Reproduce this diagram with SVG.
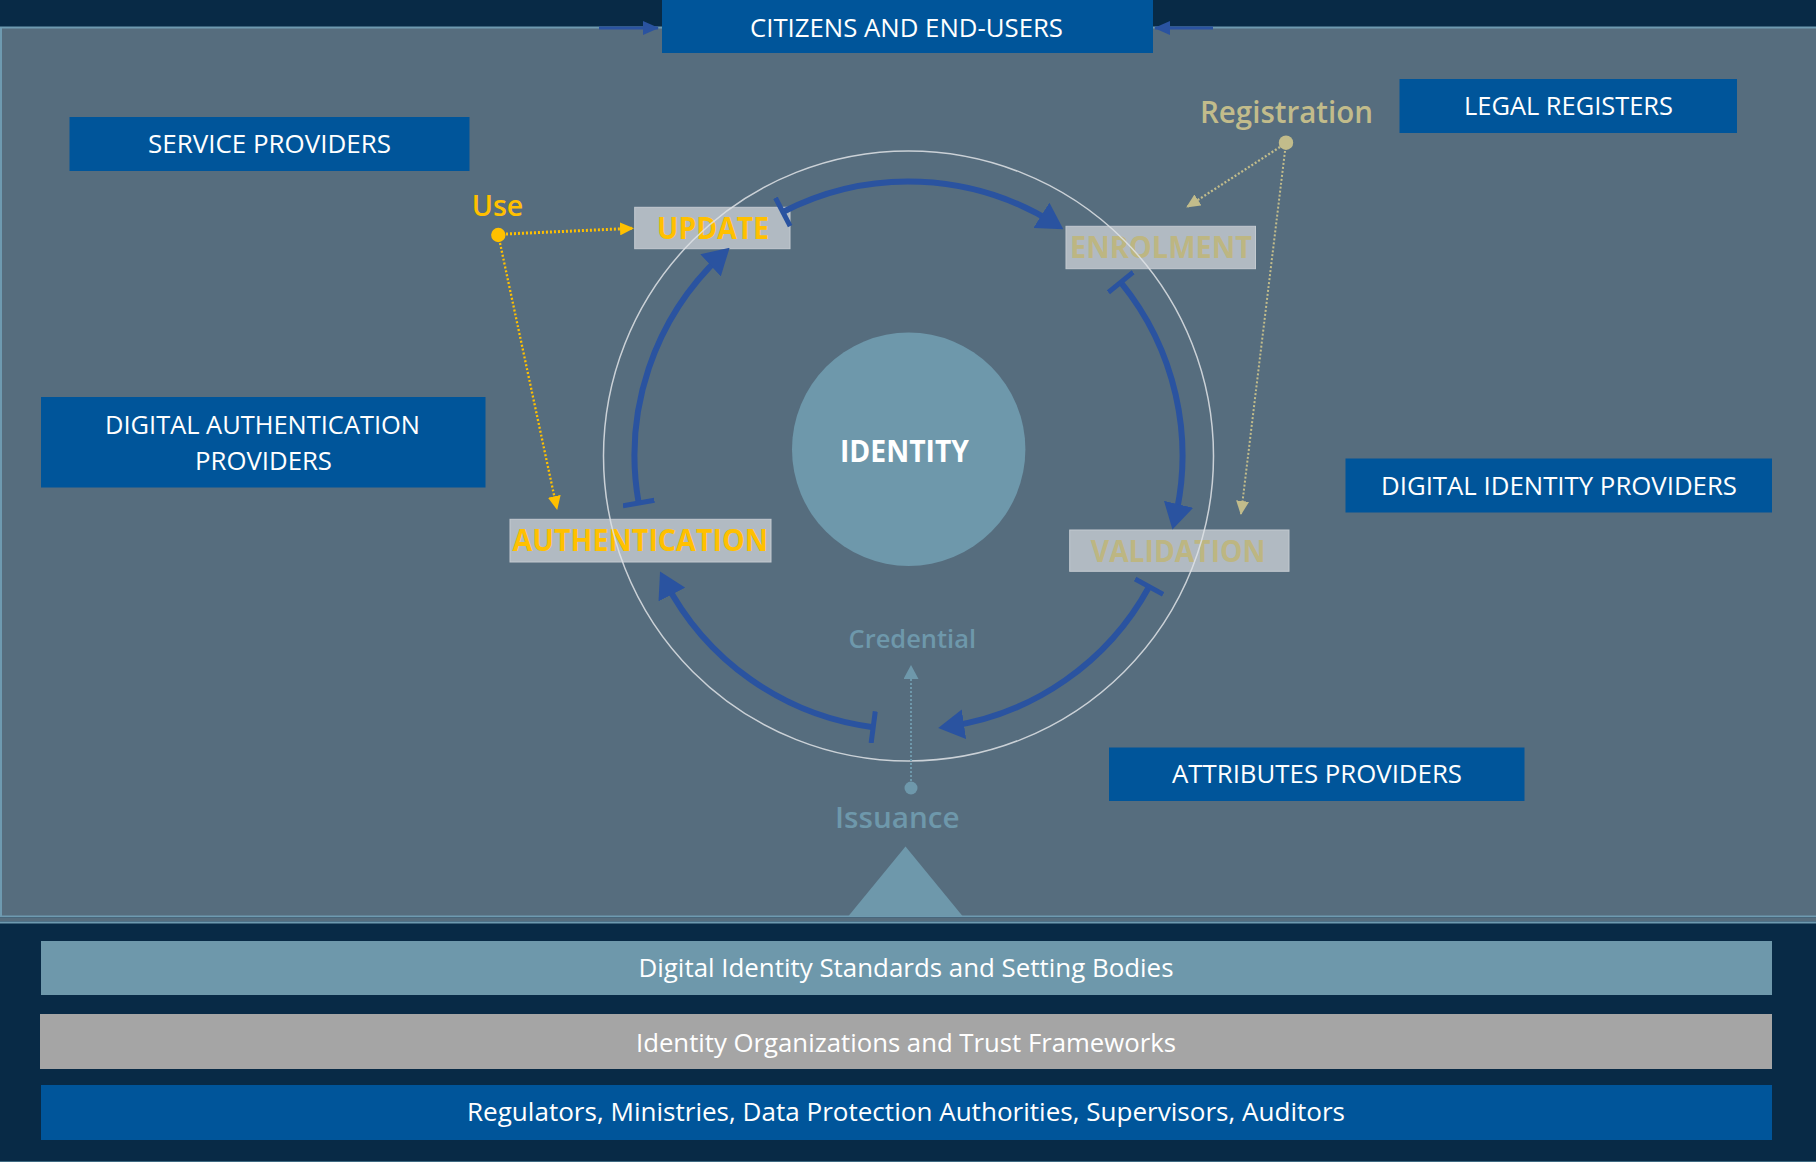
<svg xmlns="http://www.w3.org/2000/svg" width="1816" height="1162" viewBox="0 0 1816 1162">
<defs>
<style>
.sans{font-family:"Open Sans","Liberation Sans",sans-serif}
.box{fill:#00559a}
.boxtxt{font-family:"Open Sans","Liberation Sans",sans-serif;font-size:26px;fill:#ffffff;text-anchor:middle}
.lbl{fill:#b1bac2;stroke:#c3cad0;stroke-width:1}
.stage{font-family:"Open Sans","Liberation Sans",sans-serif;font-weight:700;font-size:30px;text-anchor:middle}
.orange{fill:#ffc000}
.tan{fill:#c2bc8b}
.stagetan{fill:#bdb682}
.teal{fill:#6e98ab}
.note{font-family:"Open Sans","Liberation Sans",sans-serif;font-weight:600;text-anchor:middle}
.arc{fill:none;stroke:#2a53a0;stroke-width:6;marker-start:url(#tee);marker-end:url(#bigArrow)}
.bartxt{font-family:"Open Sans","Liberation Sans",sans-serif;font-size:25px;fill:#ffffff;text-anchor:middle}
</style>
<marker id="bigArrow" markerUnits="userSpaceOnUse" viewBox="0 0 26 30" markerWidth="26" markerHeight="30" refX="16" refY="15" orient="auto">
<path d="M0,0 L26,15 L0,30 Z" fill="#2a53a0"/>
</marker>
<marker id="tee" markerUnits="userSpaceOnUse" viewBox="-3 -16 6 32" markerWidth="6" markerHeight="32" refX="0" refY="0" orient="auto">
<line x1="0" y1="-16" x2="0" y2="16" stroke="#2a53a0" stroke-width="5"/>
</marker>
<marker id="topArrow" markerUnits="userSpaceOnUse" viewBox="0 0 16 14" markerWidth="16" markerHeight="14" refX="15" refY="7" orient="auto">
<path d="M0,0 L16,7 L0,14 Z" fill="#2a53a0"/>
</marker>
<marker id="orangeArrow" markerUnits="userSpaceOnUse" viewBox="0 0 14 13" markerWidth="14" markerHeight="13" refX="13" refY="6.5" orient="auto">
<path d="M0,0 L14,6.5 L0,13 Z" fill="#ffc000"/>
</marker>
<marker id="tanArrow" markerUnits="userSpaceOnUse" viewBox="0 0 14 13" markerWidth="14" markerHeight="13" refX="13" refY="6.5" orient="auto">
<path d="M0,0 L14,6.5 L0,13 Z" fill="#c2bc8b"/>
</marker>
<marker id="tealArrow" markerUnits="userSpaceOnUse" viewBox="0 0 14 15" markerWidth="14" markerHeight="15" refX="13" refY="7.5" orient="auto">
<path d="M0,0 L14,7.5 L0,15 Z" fill="#6e98ab"/>
</marker>
</defs>

<!-- background -->
<rect x="0" y="0" width="1816" height="1162" fill="#082a46"/>
<rect x="1" y="27.5" width="1816" height="889" fill="#566d7e" stroke="#6e9ab0" stroke-width="2"/>
<rect x="0" y="917.5" width="1816" height="4" fill="#566d7e"/>
<line x1="0" y1="922.5" x2="1816" y2="922.5" stroke="#6e9ab0" stroke-width="2"/>
<line x1="0" y1="1161.5" x2="1816" y2="1161.5" stroke="#3f6a82" stroke-width="1"/>

<!-- foundation bars -->
<g id="standards">
<rect x="41" y="941" width="1731" height="54" fill="#6e98ab"/>
<text class="bartxt" x="906" y="977" textLength="535" lengthAdjust="spacingAndGlyphs">Digital Identity Standards and Setting Bodies</text>
</g>
<g id="trust-frameworks">
<rect x="40" y="1014" width="1732" height="55" fill="#a5a5a5"/>
<text class="bartxt" x="906" y="1052" textLength="540" lengthAdjust="spacingAndGlyphs">Identity Organizations and Trust Frameworks</text>
</g>
<g id="regulators">
<rect x="41" y="1085" width="1731" height="55" fill="#00559a"/>
<text class="bartxt" x="906" y="1121" textLength="878" lengthAdjust="spacingAndGlyphs">Regulators, Ministries, Data Protection Authorities, Supervisors, Auditors</text>
</g>

<!-- issuance base triangle -->
<g id="issuance-base">
<polygon points="905.5,846.5 848.5,916 962.5,916" fill="#6e98ab"/>
</g>

<!-- actor boxes -->
<g id="citizens">
<rect class="box" x="662" y="0" width="491" height="53"/>
<text class="boxtxt" x="906.5" y="36.5" textLength="313" lengthAdjust="spacingAndGlyphs">CITIZENS AND END-USERS</text>
</g>
<g id="service-providers">
<rect class="box" x="69.5" y="117" width="400" height="54"/>
<text class="boxtxt" x="269.5" y="153" textLength="243" lengthAdjust="spacingAndGlyphs">SERVICE PROVIDERS</text>
</g>
<g id="legal-registers">
<rect class="box" x="1399.5" y="79" width="337.5" height="54"/>
<text class="boxtxt" x="1568.5" y="115" textLength="209" lengthAdjust="spacingAndGlyphs">LEGAL REGISTERS</text>
</g>
<g id="digital-authentication-providers">
<rect class="box" x="41" y="397" width="444.5" height="90.5"/>
<text class="boxtxt" x="262.5" y="434" textLength="315" lengthAdjust="spacingAndGlyphs">DIGITAL AUTHENTICATION</text>
<text class="boxtxt" x="263.5" y="470" textLength="137" lengthAdjust="spacingAndGlyphs">PROVIDERS</text>
</g>
<g id="digital-identity-providers">
<rect class="box" x="1345.5" y="458.5" width="426.5" height="54"/>
<text class="boxtxt" x="1559" y="495" textLength="356" lengthAdjust="spacingAndGlyphs">DIGITAL IDENTITY PROVIDERS</text>
</g>
<g id="attributes-providers">
<rect class="box" x="1109" y="747.5" width="415.5" height="53.5"/>
<text class="boxtxt" x="1317" y="782.5" textLength="290" lengthAdjust="spacingAndGlyphs">ATTRIBUTES PROVIDERS</text>
</g>

<!-- identity -->
<g id="identity">
<circle cx="908.7" cy="449.3" r="116.7" fill="#6e98ab"/>
<text x="904.5" y="461.5" class="sans" font-weight="700" font-size="30" fill="#ffffff" text-anchor="middle" textLength="129" lengthAdjust="spacingAndGlyphs">IDENTITY</text>
</g>

<!-- lifecycle stages -->
<g id="update">
<rect class="lbl" x="634.7" y="207.3" width="155.3" height="41.4"/>
<text class="stage orange" x="713" y="239" textLength="112" lengthAdjust="spacingAndGlyphs">UPDATE</text>
</g>
<g id="enrolment">
<rect class="lbl" x="1066" y="226.3" width="189.5" height="42.4"/>
<text class="stage stagetan" x="1161" y="258.3" textLength="182" lengthAdjust="spacingAndGlyphs">ENROLMENT</text>
</g>
<g id="authentication">
<rect class="lbl" x="510" y="519.3" width="261" height="42.7"/>
<text class="stage orange" x="640.3" y="550.7" textLength="255.5" lengthAdjust="spacingAndGlyphs">AUTHENTICATION</text>
</g>
<g id="validation">
<rect class="lbl" x="1069.7" y="530" width="219.3" height="41.3"/>
<text class="stage stagetan" x="1178.1" y="561.7" textLength="174.6" lengthAdjust="spacingAndGlyphs">VALIDATION</text>
</g>

<!-- cycle ring -->
<g id="ring">
<circle cx="908.5" cy="456" r="305" fill="none" stroke="#dfe3e6" stroke-opacity="0.85" stroke-width="1.5"/>
</g>

<!-- annotation labels -->
<g id="use">
<text class="note orange" x="497.5" y="215.7" font-size="29" textLength="51.6" lengthAdjust="spacingAndGlyphs">Use</text>
<circle cx="498.3" cy="235" r="7.2" fill="#ffc000"/>
</g>
<g id="registration">
<text class="note tan" x="1286.5" y="122.7" font-size="30" textLength="173" lengthAdjust="spacingAndGlyphs">Registration</text>
<circle cx="1286" cy="142.7" r="7.2" fill="#c2bc8b"/>
</g>
<g id="credential">
<text class="note teal" x="912.3" y="647.7" font-size="26" textLength="127.4" lengthAdjust="spacingAndGlyphs">Credential</text>
</g>
<g id="issuance">
<text class="note teal" x="897.3" y="828.3" font-size="28" textLength="124.7" lengthAdjust="spacingAndGlyphs">Issuance</text>
<circle cx="911" cy="788" r="6.5" fill="#6e98ab"/>
</g>

<!-- connectors -->
<g id="connectors">
<line x1="599" y1="28" x2="658" y2="28" stroke="#2a53a0" stroke-width="3" marker-end="url(#topArrow)"/>
<line x1="1213" y1="28" x2="1155" y2="28" stroke="#2a53a0" stroke-width="3" marker-end="url(#topArrow)"/>

<path class="arc" d="M782.8,212.0 A274,274 0 0 1 1054.9,223.9"/>
<path class="arc" d="M1120.8,282.3 A274,274 0 0 1 1174.8,519.9"/>
<path class="arc" d="M1149.1,586.7 A274,274 0 0 1 948.1,726.6"/>
<path class="arc" d="M873.2,727.2 A274,274 0 0 1 664.6,580.3"/>
<path class="arc" d="M638.7,503.1 A274,274 0 0 1 722.3,254.5"/>

<line x1="506" y1="234" x2="633" y2="228.3" stroke="#ffc000" stroke-width="3" stroke-dasharray="2 2" marker-end="url(#orangeArrow)"/>
<line x1="500" y1="243" x2="557" y2="509" stroke="#ffc000" stroke-width="2.3" stroke-dasharray="2 2" marker-end="url(#orangeArrow)"/>
<line x1="1280" y1="147" x2="1187" y2="207" stroke="#c2bc8b" stroke-width="2.3" stroke-dasharray="2 2" marker-end="url(#tanArrow)"/>
<line x1="1285" y1="151" x2="1241" y2="514" stroke="#c2bc8b" stroke-width="2" stroke-dasharray="2 2" marker-end="url(#tanArrow)"/>
<line x1="911" y1="781" x2="911" y2="666" stroke="#6e98ab" stroke-width="2" stroke-dasharray="2 2" marker-end="url(#tealArrow)"/>
</g>
</svg>
